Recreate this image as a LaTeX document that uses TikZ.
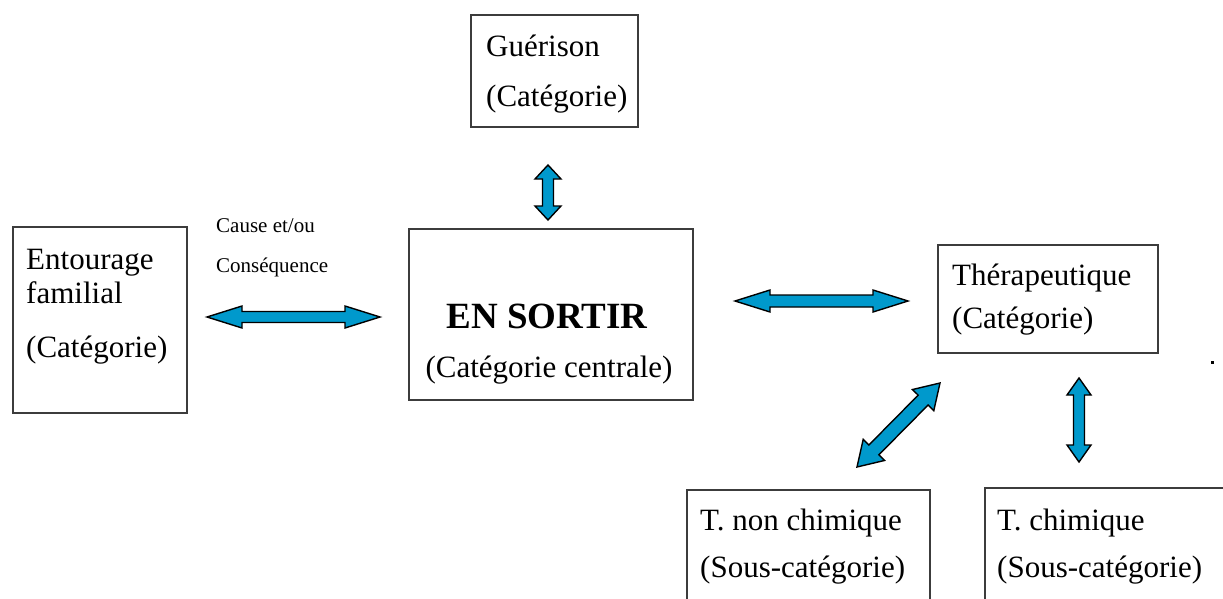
\documentclass[tikz,border=0pt]{standalone}
\usepackage{fontspec}
\setmainfont{Liberation Serif}
\usetikzlibrary{calc}
\definecolor{arrowblue}{RGB}{0,153,204}
\definecolor{boxline}{RGB}{60,60,60}
\tikzset{
  box/.style={draw=boxline, line width=1.3pt, inner sep=0pt, outer sep=0pt, rectangle},
  txt/.style={inner sep=0pt, anchor=base west, font=\fontsize{31}{37}\selectfont},
  ctxt/.style={inner sep=0pt, anchor=base, font=\fontsize{31}{37}\selectfont},
  btxt/.style={inner sep=0pt, anchor=base, font=\fontsize{37}{44}\selectfont\bfseries},
  smalltxt/.style={inner sep=0pt, anchor=base west, font=\fontsize{21}{25}\selectfont},
  fatarrowstyle/.style={draw=black, fill=arrowblue, line width=1.4pt, line join=miter},
}
% #1 name, #2 start, #3 end, #4 head length, #5 head half width, #6 shaft half width
\newcommand\fatarrow[6]{%
  \coordinate (#1ha) at ($(#2)!#4!(#3)$);
  \coordinate (#1hb) at ($(#3)!#4!(#2)$);
  \draw[fatarrowstyle] (#2)
    -- ($(#1ha)!#5!90:(#3)$) -- ($(#1ha)!#6!90:(#3)$)
    -- ($(#1hb)!#6!-90:(#2)$) -- ($(#1hb)!#5!-90:(#2)$)
    -- (#3)
    -- ($(#1hb)!#5!90:(#2)$) -- ($(#1hb)!#6!90:(#2)$)
    -- ($(#1ha)!#6!-90:(#3)$) -- ($(#1ha)!#5!-90:(#3)$)
    -- cycle;
}
\begin{document}
\begin{tikzpicture}[x=1pt, y=-1pt]
\useasboundingbox (0,0) rectangle (1223,599);
\clip (0,0) rectangle (1223,599);

% boxes
\node[box, anchor=north west, minimum width=167pt, minimum height=112pt] (gue) at (471,15) {};
\node[box, anchor=north west, minimum width=174pt, minimum height=186pt] (ent) at (13,227) {};
\node[box, anchor=north west, minimum width=284pt, minimum height=171pt] (cen) at (409,229) {};
\node[box, anchor=north west, minimum width=220pt, minimum height=108pt] (the) at (938,245) {};
\node[box, anchor=north west, minimum width=243pt, minimum height=140pt] (tnc) at (687,490) {};
\node[box, anchor=north west, minimum width=260pt, minimum height=140pt] (tch) at (985,488) {};

% texts
\node[txt] (gue1) at (486,57) {Guérison};
\node[txt] (gue2) at (486,107) {(Catégorie)};
\node[txt] (ent1) at (26,269) {Entourage};
\node[txt] (ent2) at (26,303) {familial};
\node[txt] (ent3) at (26,357) {(Catégorie)};
\node[btxt] (cen1) at (547,328) {EN SORTIR};
\node[ctxt] (cen2) at (549,377) {(Catégorie centrale)};
\node[txt] (the1) at (952,285) {Thérapeutique};
\node[txt] (the2) at (952,328) {(Catégorie)};
\node[txt] (tnc1) at (700,530) {T. non chimique};
\node[txt] (tnc2) at (700,577) {(Sous-catégorie)};
\node[txt] (tch1) at (997,530) {T. chimique};
\node[txt] (tch2) at (997,577) {(Sous-catégorie)};
\node[smalltxt] (lab1) at (216,232) {Cause et/ou};
\node[smalltxt] (lab2) at (216,272) {Conséquence};
\node[inner sep=0pt, fill=black, minimum size=3pt] (dot) at (1212,362) {};

% arrow end points
\coordinate (a1s) at (207,317);
\coordinate (a1e) at (380,317);
\coordinate (a2s) at (735,301);
\coordinate (a2e) at (908,301);
\coordinate (a3s) at (548,165);
\coordinate (a3e) at (548,220);
\coordinate (a4s) at (857,467);
\coordinate (a4e) at (940,383);
\coordinate (a5s) at (1079,378);
\coordinate (a5e) at (1079,462);

\fatarrow{a1}{a1s}{a1e}{35pt}{11pt}{5.5pt}
\fatarrow{a2}{a2s}{a2e}{35pt}{11pt}{6pt}
\fatarrow{a3}{a3s}{a3e}{14pt}{13pt}{5.5pt}
\fatarrow{a4}{a4s}{a4e}{24pt}{15pt}{7pt}
\fatarrow{a5}{a5s}{a5e}{17pt}{12pt}{5.5pt}
\end{tikzpicture}
\end{document}
